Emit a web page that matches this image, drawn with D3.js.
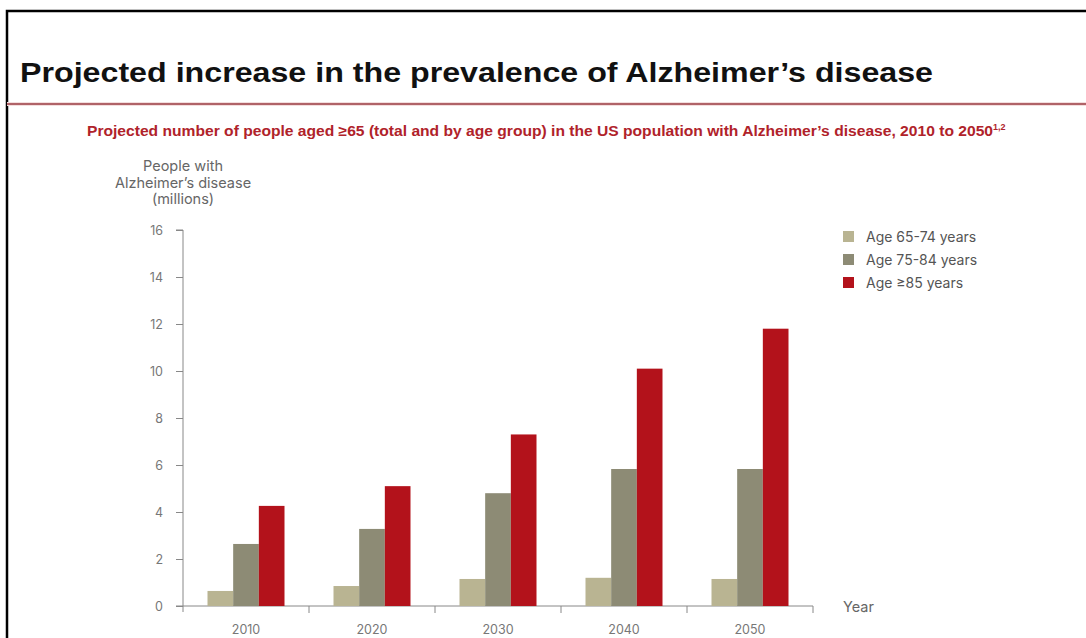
<!DOCTYPE html>
<html><head><meta charset="utf-8">
<script src="https://cdn.jsdelivr.net/npm/d3@7"></script>
<style>body{margin:0;background:#fff;} svg{display:block;}</style>
</head><body>
<svg id="c" width="1086" height="638"></svg>
<script>
const years = ["2010","2020","2030","2040","2050"];
const seriesNames = ["Age 65-74 years","Age 75-84 years","Age \u226585 years"];
const age65_74 = [0.64, 0.85, 1.15, 1.2, 1.15];
const age75_84 = [2.64, 3.28, 4.8, 5.83, 5.83];
const age85plus = [4.26, 5.1, 7.3, 10.1, 11.8];
const yTicks = [0,2,4,6,8,10,12,14,16];
const colors = ["#b9b492","#8d8b75","#b3121b"];

const svg = d3.select("#c");
// frame
svg.append("path").attr("d","M7,638 V11 H1086").attr("fill","none").attr("stroke","#000").attr("stroke-width",2.5);
svg.append("line").attr("x1",7).attr("x2",1086).attr("y1",104).attr("y2",104).attr("stroke","#f3dede").attr("stroke-width",4);
svg.append("line").attr("x1",7).attr("x2",1086).attr("y1",104).attr("y2",104).attr("stroke","#9a3a40").attr("stroke-width",1.6);

svg.append("text").attr("x",20).attr("y",82).text("Projected increase in the prevalence of Alzheimer\u2019s disease")
  .attr("font-family","Liberation Sans, Arial, sans-serif").attr("font-weight","bold").attr("font-size",28).attr("fill","#111")
  .attr("textLength",913).attr("lengthAdjust","spacingAndGlyphs");

const sub = svg.append("text").attr("x",87).attr("y",136)
  .attr("font-family","Liberation Sans, Arial, sans-serif").attr("font-weight","bold").attr("font-size",14.5).attr("fill","#b0222a");
sub.append("tspan").text("Projected number of people aged \u226565 (total and by age group) in the US population with Alzheimer\u2019s disease, 2010 to 2050")
  .attr("textLength",906).attr("lengthAdjust","spacingAndGlyphs");
sub.append("tspan").text("1,2").attr("font-size",9).attr("dy",-6);

const x0 = d3.scaleBand().domain(years).range([183,813]).padding(0);
const y = d3.scaleLinear().domain([0,16]).range([606,230]);
const groupW = 77;
const x1 = d3.scaleBand().domain(seriesNames).range([0,groupW]).padding(0);

const font = "Inter, Open Sans, sans-serif";
// y label
const yl = svg.append("text").attr("text-anchor","middle").attr("font-family",font).attr("font-size",14.5).attr("fill","#666");
["People with","Alzheimer\u2019s disease","(millions)"].forEach((t,i)=>yl.append("tspan").attr("x",183).attr("y",171+i*16.5).text(t));

// y axis
const yAxis = svg.append("g").attr("transform","translate(183,0)").call(d3.axisLeft(y).tickValues(yTicks).tickSize(7).tickPadding(13));
yAxis.selectAll("path,line").attr("stroke","#888");
yAxis.select(".domain").attr("d","M-7,230H0V612");
yAxis.selectAll("text").attr("font-family",font).attr("font-size",12.5).attr("fill","#777");

// x axis
const xAxis = svg.append("g").attr("transform","translate(0,606)").call(d3.axisBottom(x0).tickSize(0).tickPadding(19));
xAxis.select(".domain").attr("stroke","#888").attr("d","M176,0H813");
xAxis.selectAll("text").attr("font-family",font).attr("font-size",12.5).attr("fill","#777");
const bounds = d3.range(years.length+1).map(i=>x0.range()[0]+i*x0.bandwidth());
xAxis.selectAll(".bt").data(bounds.slice(1)).enter().append("line").attr("x1",d=>d).attr("x2",d=>d).attr("y1",0).attr("y2",7).attr("stroke","#888");

svg.append("text").attr("x",843).attr("y",612).text("Year").attr("font-family",font).attr("font-size",14.5).attr("fill","#666");

// bars
const data = years.map((yr,i)=>({yr, vals:[age65_74[i],age75_84[i],age85plus[i]]}));
const g = svg.append("g");
data.forEach(d=>{
  const gx = x0(d.yr) + (x0.bandwidth()-groupW)/2;
  d.vals.forEach((v,j)=>{
    g.append("rect").attr("x",gx+x1(seriesNames[j])).attr("width",x1.bandwidth())
      .attr("y",y(v)).attr("height",y(0)-y(v)).attr("fill",colors[j]);
  });
});

// legend
seriesNames.forEach((n,i)=>{
  const ly = 237 + i*23;
  svg.append("rect").attr("x",843).attr("y",ly-6).attr("width",11).attr("height",11).attr("fill",colors[i]);
  svg.append("text").attr("x",866).attr("y",ly+5).text(n).attr("font-family",font).attr("font-size",14).attr("fill","#555");
});
</script>
</body></html>
